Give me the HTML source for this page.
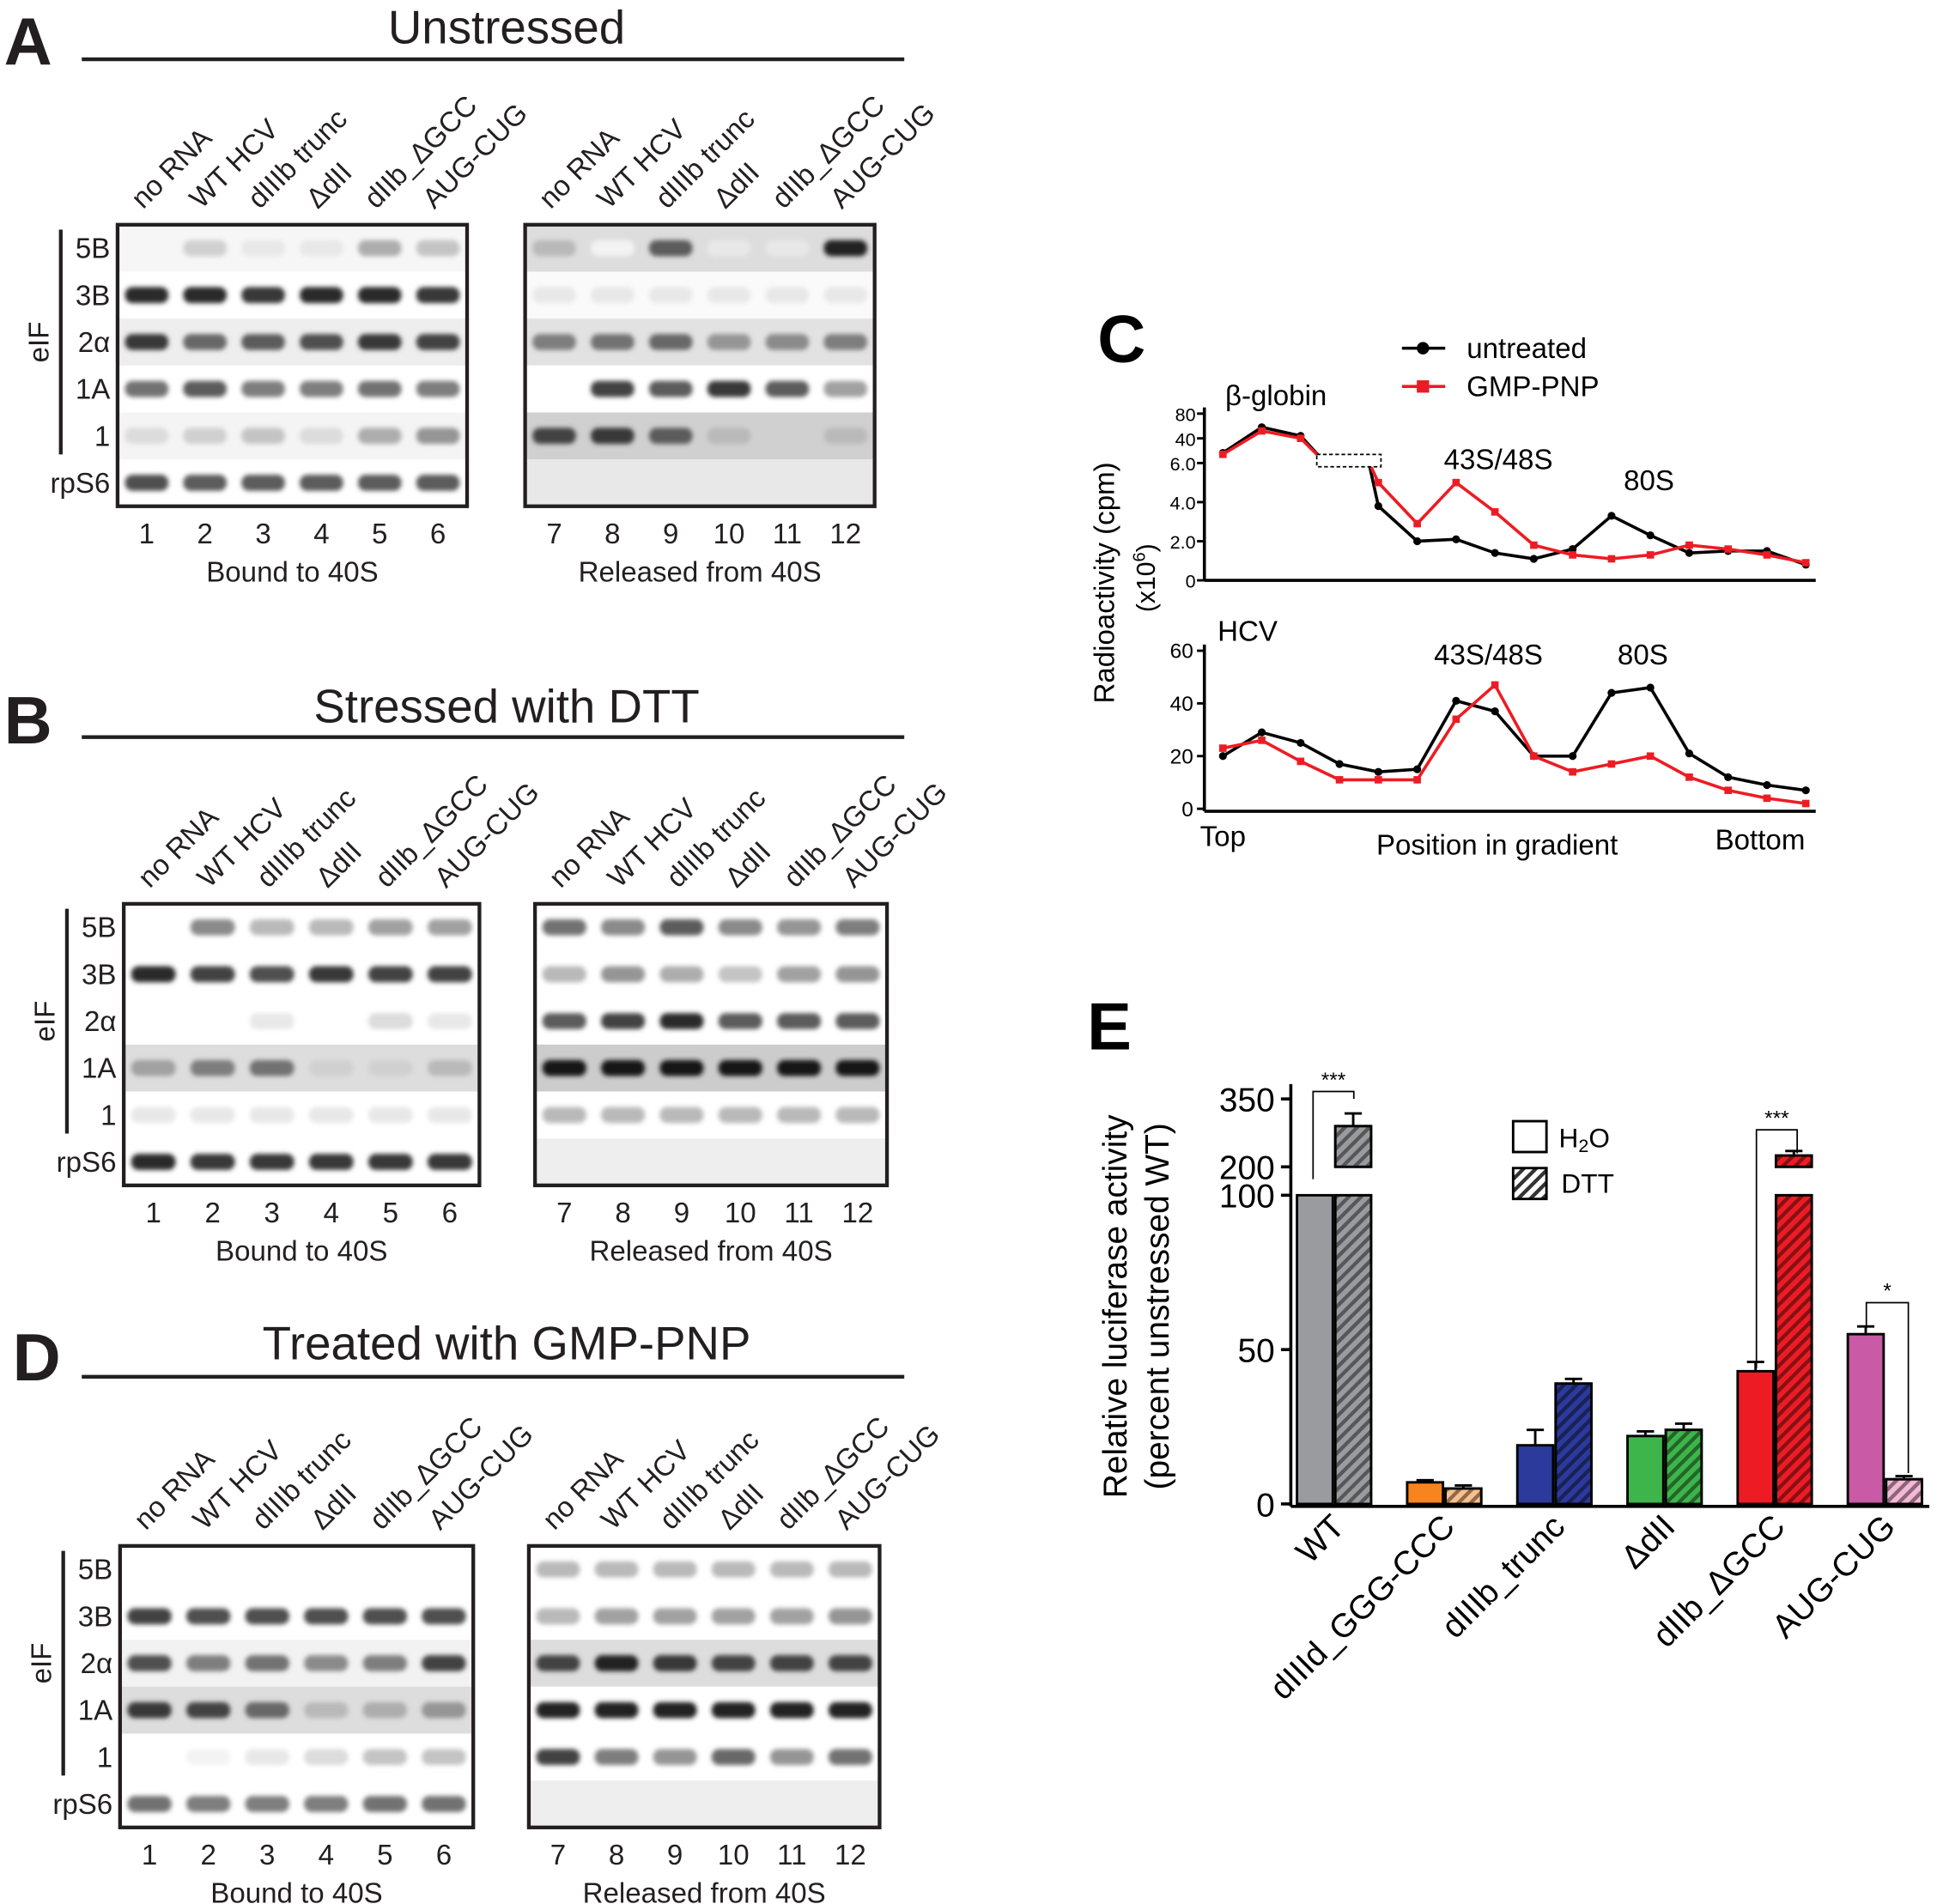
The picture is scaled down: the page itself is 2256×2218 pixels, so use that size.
<!DOCTYPE html>
<html><head><meta charset="utf-8"><style>
html,body{margin:0;padding:0;background:#fff}
svg{display:block;font-family:"Liberation Sans",Arial,sans-serif}
</style></head><body>
<svg id="fig" width="2256" height="2218" viewBox="0 0 1568 1542" xmlns="http://www.w3.org/2000/svg">
<defs>
<filter id="blur" x="-20%" y="-50%" width="140%" height="200%"><feGaussianBlur stdDeviation="1.8"/></filter>
<pattern id="hatch" width="7" height="7" patternUnits="userSpaceOnUse" patternTransform="rotate(45)"><rect width="7" height="7" fill="#fff"/><rect width="3" height="7" fill="#333"/></pattern>
</defs>
<g id="blots"></g>
<g id="chartC"></g>
<g id="chartE"></g>
</svg>
<script>
const NS="http://www.w3.org/2000/svg";
function el(tag,attrs,parent,text){const e=document.createElementNS(NS,tag);for(const k in attrs)e.setAttribute(k,attrs[k]);if(text!==undefined)e.textContent=text;parent.appendChild(e);return e;}

// ---------- Blots ----------
const laneNames=["no RNA","WT HCV","dIIIb trunc","ΔdII","dIIb_ΔGCC","AUG-CUG"];
const rowNames=["5B","3B","2α","1A","1","rpS6"];
const panels=[
 {letter:"A",title:"Unstressed",ty:22,ly:48,top:182,L:[95,378],R:[425,708],
  left:[[0,.2,.1,.1,.35,.25],[.9,.9,.85,.9,.9,.85],[.85,.65,.7,.75,.85,.8],[.6,.7,.55,.55,.6,.55],[.15,.2,.25,.15,.35,.45],[.75,.7,.7,.7,.7,.7]],
  lbg:["#f6f6f6","#fff","#eee","#fff","#f4f4f4","#fff"],
  right:[[.3,.05,.7,.1,.1,.95],[.1,.1,.1,.1,.1,.1],[.55,.6,.65,.45,.5,.55],[0,.8,.7,.85,.7,.4],[.8,.85,.7,.3,.2,.3],[0,0,0,0,0,0]],
  rbg:["#ddd","#fafafa","#e2e2e2","#fff","#d0d0d0","#e8e8e8"]},
 {letter:"B",title:"Stressed with DTT",ty:572,ly:597,top:732,L:[100,388],R:[433,718],
  left:[[0,.5,.3,.3,.4,.4],[.9,.8,.75,.85,.8,.8],[0,0,.1,0,.15,.1],[.4,.55,.6,.2,.2,.3],[.1,.1,.1,.1,.1,.1],[.9,.85,.85,.85,.85,.85]],
  lbg:["#fff","#fff","#fff","#ddd","#fff","#fff"],
  right:[[.6,.5,.7,.5,.45,.55],[.3,.45,.35,.25,.4,.45],[.7,.8,.9,.7,.7,.7],[1,1,1,1,1,1],[.3,.3,.3,.3,.3,.3],[0,0,0,0,0,0]],
  rbg:["#fff","#fff","#fff","#ccc","#fff","#eee"]},
 {letter:"D",title:"Treated with GMP-PNP",ty:1088,ly:1115,top:1252,L:[97,383],R:[428,712],
  left:[[0,0,0,0,0,0],[.8,.75,.75,.75,.75,.75],[.75,.55,.6,.5,.55,.8],[.85,.8,.65,.3,.35,.45],[0,.05,.1,.15,.25,.25],[.6,.55,.55,.55,.6,.6]],
  lbg:["#fff","#fff","#f2f2f2","#ddd","#fff","#fff"],
  right:[[.3,.3,.3,.3,.3,.3],[.3,.4,.4,.4,.4,.45],[.8,.95,.85,.8,.8,.8],[.95,.95,.95,.95,.95,.95],[.8,.55,.45,.65,.45,.6],[0,0,0,0,0,0]],
  rbg:["#fff","#fff","#ddd","#fff","#fff","#eee"]}
];
const G=document.getElementById("blots");
function blot(x0,x1,top,ints,bgs,nums,caption,pn){
  const h=228,rh=h/6,w=x1-x0,lw=w/6;
  const g=el("g",{},G);
  
  
  for(let r=0;r<6;r++){
    el("rect",{x:x0,y:top+r*rh,width:w,height:rh,fill:bgs[r]},g);
    for(let l=0;l<6;l++){
      const v=ints[r][l]; if(v<=0.02)continue;
      const c=Math.round(255*(1-0.92*v));
      const b=el("rect",{x:x0+l*lw+6,y:top+r*rh+rh/2-6.5,width:lw-12,height:13,rx:6,fill:`rgb(${c},${c},${c})`,filter:"url(#blur)"},g);
      
      
    }
  }
  el("rect",{x:x0,y:top,width:w,height:h,fill:"none",stroke:"#231f20","stroke-width":3},g);
  for(let l=0;l<6;l++){
    const cx=x0+l*lw+lw/2;
    const t=el("text",{x:cx,y:top+h+30,"font-size":23,"text-anchor":"middle",fill:"#231f20"},g,nums[l]);
    
    
    const n=el("text",{x:cx-3,y:top-12,"font-size":23,fill:"#231f20",transform:`rotate(-45 ${cx-3} ${top-12})`},g,laneNames[l]);
    
    
  }
  const cp=el("text",{x:(x0+x1)/2,y:top+h+61,"font-size":23,"text-anchor":"middle",fill:"#231f20"},g,caption);
  
  
}
panels.forEach((p,i)=>{
  const lt=el("text",{x:i==2?10:3,y:p.ty+30,"font-size":54,"font-weight":"bold",fill:"#231f20"},G,p.letter);
  
  
  const tt=el("text",{x:410,y:p.ty+13,"font-size":38,"text-anchor":"middle",fill:"#231f20"},G,p.title);
  
  
  el("line",{x1:66,x2:732,y1:p.ly,y2:p.ly,stroke:"#231f20","stroke-width":3},G);
  const rh=228/6;
  for(let r=0;r<6;r++){
    const rl=el("text",{x:p.L[0]-6,y:p.top+r*rh+rh/2+8,"font-size":23,"text-anchor":"end",fill:"#231f20"},G,rowNames[r]);
    
    
  }
  el("line",{x1:p.L[0]-46,x2:p.L[0]-46,y1:p.top+4,y2:p.top+rh*5-4,stroke:"#231f20","stroke-width":3},G);
  const ef=el("text",{x:p.L[0]-56,y:p.top+rh*2.5,"font-size":23,"text-anchor":"middle",fill:"#231f20",transform:`rotate(-90 ${p.L[0]-56} ${p.top+rh*2.5})`},G,"eIF");
  
  
  blot(p.L[0],p.L[1],p.top,p.left,p.lbg,["1","2","3","4","5","6"],"Bound to 40S",p.letter+"-left");
  blot(p.R[0],p.R[1],p.top,p.right,p.rbg,["7","8","9","10","11","12"],"Released from 40S",p.letter+"-right");
});

// ---------- Chart C ----------
const cPositions=[1,2,3,4,5,6,7,8,9,10,11,12,13,14,15,16];
const globinUntreated=[20,58,44,8,3.8,2.0,2.1,1.4,1.1,1.6,3.3,2.3,1.4,1.5,1.5,0.8];
const globinGMPPNP=[18,52,40,8,5.0,2.9,5.0,3.5,1.8,1.3,1.1,1.3,1.8,1.6,1.3,0.9];
const hcvUntreated=[20,29,25,17,14,15,41,37,20,20,44,46,21,12,9,7];
const hcvGMPPNP=[23,26,18,11,11,11,34,47,20,14,17,20,12,7,4,2];
const topTicks=[["80",80],["40",40],["6.0",6],["4.0",4],["2.0",2],["0",0]];
const botTicks=[0,20,40,60];
const C=document.getElementById("chartC");
const cx=i=>990+(i-1)*(472/15);
const yTop=v=>v<=6?470-v*95/6:(v<=40?375-(v-6)*20/34:355-(v-40)*0.5);
const yBot=v=>655-v*128/60;
function axes(y0,y1,x0,x1){el("line",{x1:x0,x2:x0,y1:y0,y2:y1,stroke:"#000","stroke-width":2.5},C);el("line",{x1:x0,x2:x1,y1:y1,y2:y1,stroke:"#000","stroke-width":2.5},C);}
axes(330,470,975,1470);axes(522,657,975,1470);
topTicks.forEach(t=>{const y=yTop(t[1]);el("line",{x1:969,x2:975,y1:y,y2:y,stroke:"#000","stroke-width":2},C);
 const tx=el("text",{x:968,y:y+6,"font-size":15,"text-anchor":"end"},C,t[0]);});
botTicks.forEach(t=>{const y=yBot(t);el("line",{x1:969,x2:975,y1:y,y2:y,stroke:"#000","stroke-width":2},C);
 const tx=el("text",{x:966,y:y+6,"font-size":17,"text-anchor":"end"},C,t);});
function series(vals,yf,color,sq,name,skip){
  let pts=[];vals.forEach((v,i)=>{if(skip&&i==3)return;pts.push([cx(cPositions[i]),yf(v)]);});
  if(skip){
    const a=pts.slice(0,3),b=pts.slice(3);
    a.push([1072,yf(8)]);b.unshift([1108,yf(8)]);
    [a,b].forEach(s=>{const pl=el("polyline",{points:s.map(p=>p.join(",")).join(" "),fill:"none",stroke:color,"stroke-width":2.5},C);});
  } else {const pl=el("polyline",{points:pts.map(p=>p.join(",")).join(" "),fill:"none",stroke:color,"stroke-width":2.5},C);}
  pts.forEach(p=>{const m=sq?el("rect",{x:p[0]-3,y:p[1]-3,width:6,height:6,fill:color},C):el("circle",{cx:p[0],cy:p[1],r:3.2,fill:color},C);
    });
}
series(globinUntreated,yTop,"#000",false,"globin-untreated",true);
series(globinGMPPNP,yTop,"#ed1c24",true,"globin-gmppnp",true);
series(hcvUntreated,yBot,"#000",false,"hcv-untreated",false);
series(hcvGMPPNP,yBot,"#ed1c24",true,"hcv-gmppnp",false);
el("rect",{x:1066,y:368,width:52,height:10,fill:"#fff",stroke:"#000","stroke-width":1.2,"stroke-dasharray":"3,2"},C);
[["C",908,293,54,"bold","panel-letter"],["β-globin",1033,328,23,"normal","chart-label"],["43S/48S",1213,380,23,"normal","peak-label"],["80S",1335,397,23,"normal","peak-label"],
 ["HCV",1010,519,23,"normal","chart-label"],["43S/48S",1205,538,23,"normal","peak-label"],["80S",1330,538,23,"normal","peak-label"],
 ["Top",990,685,23,"normal","x-axis-label"],["Position in gradient",1212,692,23,"normal","x-axis-title"],["Bottom",1425,688,23,"normal","x-axis-label"],
 ["untreated",1236,290,23,"normal","legend-entry"],["GMP-PNP",1241,321,23,"normal","legend-entry"]].forEach(t=>{
 const tx=el("text",{x:t[1],y:t[2],"font-size":t[3],"font-weight":t[4],"text-anchor":"middle"},C,t[0]);});
el("line",{x1:1135,x2:1170,y1:282,y2:282,stroke:"#000","stroke-width":2.5},C);el("circle",{cx:1152,cy:282,r:5},C);
el("line",{x1:1135,x2:1170,y1:313,y2:313,stroke:"#ed1c24","stroke-width":2.5},C);el("rect",{x:1147,y:308,width:10,height:10,fill:"#ed1c24"},C);
const yt=el("text",{x:902,y:472,"font-size":23,"text-anchor":"middle",transform:"rotate(-90 902 472)"},C,"Radioactivity (cpm)");
const yt2=el("text",{x:935,y:468,"font-size":21,"text-anchor":"middle",transform:"rotate(-90 935 468)"},C);yt2.innerHTML='(x10<tspan dy="-8" font-size="14">6</tspan><tspan dy="8">)</tspan>';


// ---------- Chart E ----------
const groups=["WT","dIIId_GGG-CCC","dIIIb_trunc","ΔdII","dIIb_ΔGCC","AUG-CUG"];
const h2o=[100,7,19,22,43,55];
const h2oErr=[0,0.7,5,1.5,3,2.5];
const dtt=[290,5,39,24,225,8];
const dttErr=[28,1,1.5,2,10,1];
const colors=["#9a9b9f","#f7841f","#2b3a9b","#3db54a","#ed1c24","#c95aa5"];
const dttColors=["#9a9b9f","#fbc08a","#2b3a9b","#3db54a","#ed1c24","#f4b8d6"];
const eTicks=[0,50,100,200,350];
const E=document.getElementById("chartE");
const yE=v=>v<=100?1218-v*2.5:945-(v-200)*0.3667;
const gx=i=>1050+i*89.2;
el("line",{x1:1045,x2:1045,y1:878,y2:1220,stroke:"#000","stroke-width":2.5},E);
el("line",{x1:1045,x2:1562,y1:1220,y2:1220,stroke:"#000","stroke-width":2.5},E);
eTicks.forEach(t=>{const y=yE(t);el("line",{x1:1037,x2:1045,y1:y,y2:y,stroke:"#000","stroke-width":2.5},E);
 const tx=el("text",{x:1032,y:y+10,"font-size":27,"text-anchor":"end"},E,t);});
function bar(x,v,err,color,hatched,name){
  const w=29,segs=v>100?[[0,100],[200,v]]:[[0,v]];
  segs.forEach(s=>{
    const y1=yE(s[1]),y0=s[0]==200?945:yE(0);
    const r=el("rect",{x:x,y:y1,width:w,height:y0-y1,fill:color,stroke:"#000","stroke-width":2},E);
    
    if(hatched){const hr=el("rect",{x:x,y:y1,width:w,height:y0-y1,fill:"url(#hatch)",stroke:"#000","stroke-width":2,opacity:0.55},E);hr.style.mixBlendMode="multiply";}
  });
  if(err>0){const yt=yE(v+err),yv=yE(v);el("line",{x1:x+w/2,x2:x+w/2,y1:yt,y2:yv,stroke:"#000","stroke-width":2},E);el("line",{x1:x+w/2-7,x2:x+w/2+7,y1:yt,y2:yt,stroke:"#000","stroke-width":2},E);}
}
groups.forEach((g,i)=>{
  bar(gx(i),h2o[i],h2oErr[i],colors[i],false,"bar-h2o-"+i);
  bar(gx(i)+31,dtt[i],dttErr[i],dttColors[i],true,"bar-dtt-"+i);
  const ax=gx(i)+40,ay=1238;
  const tx=el("text",{x:ax,y:ay,"font-size":27,"text-anchor":"end",transform:`rotate(-45 ${ax} ${ay})`},E,g);
  
});
function sig(x1,y1,x2,y2,ytop,label){
  el("polyline",{points:`${x1},${y1} ${x1},${ytop} ${x2},${ytop} ${x2},${y2}`,fill:"none",stroke:"#000","stroke-width":1.2},E);
  const t=el("text",{x:(x1+x2)/2,y:ytop-4,"font-size":17,"text-anchor":"middle"},E,label);
}
sig(1063,955,1096,890,884,"***");sig(1422,1108,1455,934,915,"***");sig(1511,1076,1545,1193,1055,"*");
const le=el("text",{x:880,y:850,"font-size":54,"font-weight":"bold"},E,"E");
const ya=el("text",{x:912,y:1058,"font-size":27,"text-anchor":"middle",transform:"rotate(-90 912 1058)"},E,"Relative luciferase activity");
const yb=el("text",{x:946,y:1058,"font-size":27,"text-anchor":"middle",transform:"rotate(-90 946 1058)"},E,"(percent unstressed WT)");
el("rect",{x:1225,y:908,width:27,height:25,fill:"#fff",stroke:"#000","stroke-width":2},E);
el("rect",{x:1225,y:946,width:27,height:25,fill:"url(#hatch)",stroke:"#000","stroke-width":2},E);
const l1=el("text",{x:1262,y:929,"font-size":22},E);l1.innerHTML='H<tspan font-size="15" dy="4">2</tspan><tspan dy="-4">O</tspan>';
const l2=el("text",{x:1264,y:966,"font-size":22},E,"DTT");
</script>
</body></html>
